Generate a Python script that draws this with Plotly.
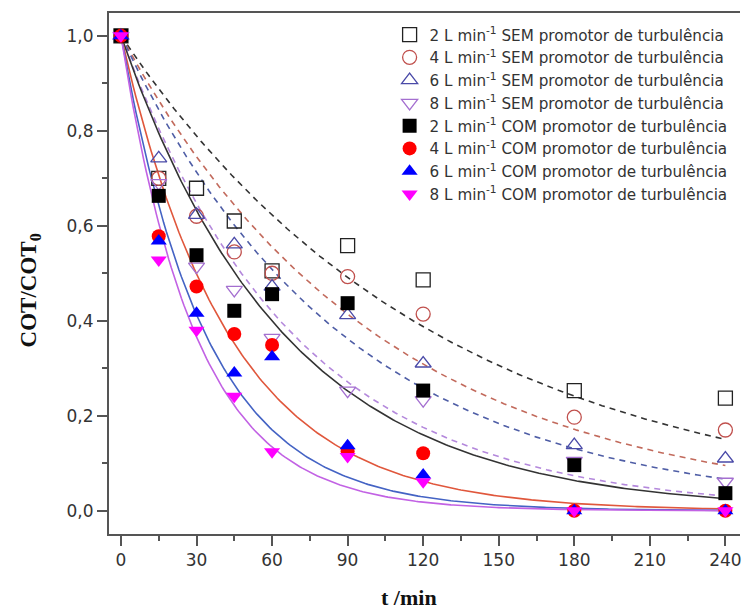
import numpy as np
import plotly.graph_objects as go

# Sampling times (min)
t_min = [0, 15, 30, 45, 60, 90, 120, 180, 240]

# Normalised TOC (COT/COT0) without turbulence promoter
sem_2 = [1.0, 0.700, 0.679, 0.610, 0.505, 0.558, 0.486, 0.253, 0.237]
sem_4 = [1.0, 0.700, 0.620, 0.545, 0.500, 0.493, 0.414, 0.197, 0.170]
sem_6 = [1.0, 0.742, 0.623, 0.561, 0.472, 0.412, 0.310, 0.138, 0.110]
sem_8 = [1.0, 0.690, 0.514, 0.465, 0.364, 0.253, 0.233, 0.105, 0.061]

# Normalised TOC with turbulence promoter
com_2 = [1.0, 0.663, 0.538, 0.421, 0.456, 0.437, 0.253, 0.096, 0.037]
com_4 = [1.0, 0.578, 0.472, 0.372, 0.349, 0.125, 0.121, 0.0, 0.0]
com_6 = [1.0, 0.568, 0.416, 0.290, 0.324, 0.137, 0.075, 0.0, 0.0]
com_8 = [1.0, 0.528, 0.380, 0.241, 0.124, 0.114, 0.061, 0.0, 0.0]

# First-order rate constants of the fitted decay curves (1/min)
k_sem = [0.0079, 0.0098, 0.0113, 0.0145]
k_com = [0.0153, 0.0232, 0.0295, 0.0335]

flows = [2, 4, 6, 8]
x_ticks = [0, 30, 60, 90, 120, 150, 180, 210, 240]
y_ticks = [0.0, 0.2, 0.4, 0.6, 0.8, 1.0]

sem_series = [sem_2, sem_4, sem_6, sem_8]
com_series = [com_2, com_4, com_6, com_8]

sem_marker_colors = ["#222222", "#c0504d", "#4a4aa8", "#a46fd0"]
sem_line_colors = ["#333333", "#c26a5c", "#4f5ea6", "#b488dc"]
sem_symbols = ["square-open", "circle-open", "triangle-up-open", "triangle-down-open"]

com_marker_colors = ["#000000", "#ff0000", "#0000ff", "#ff00ff"]
com_line_colors = ["#333333", "#e0573c", "#4463c4", "#c262e4"]
com_symbols = ["square", "circle", "triangle-up", "triangle-down"]

t_fit = np.linspace(0, 240, 241)

fig = go.Figure()

# Fitted curves: dashed without promoter, solid with promoter
for k, col in zip(k_sem, sem_line_colors):
    fig.add_trace(go.Scatter(x=t_fit, y=np.exp(-k * t_fit), mode="lines",
                             line=dict(color=col, width=1.6, dash="6px,5px"),
                             showlegend=False, hoverinfo="skip"))
for k, col in zip(k_com, com_line_colors):
    fig.add_trace(go.Scatter(x=t_fit, y=np.exp(-k * t_fit), mode="lines",
                             line=dict(color=col, width=1.6),
                             showlegend=False, hoverinfo="skip"))

# Experimental points
for q, vals, col, sym in zip(flows, sem_series, sem_marker_colors, sem_symbols):
    fig.add_trace(go.Scatter(
        x=t_min, y=vals, mode="markers",
        name=f"{q} L min<sup>-1</sup> SEM promotor de turbulência",
        marker=dict(symbol=sym, size=14, color=col, line=dict(color=col, width=1.3))))
for q, vals, col, sym in zip(flows, com_series, com_marker_colors, com_symbols):
    fig.add_trace(go.Scatter(
        x=t_min, y=vals, mode="markers",
        name=f"{q} L min<sup>-1</sup> COM promotor de turbulência",
        marker=dict(symbol=sym, size=14, color=col, line=dict(width=0))))

axis_common = dict(
    showgrid=False, zeroline=False, showline=True, linecolor="#555555", linewidth=2,
    ticks="outside", ticklen=10, tickwidth=2, tickcolor="#555555",
    ticklabeloverflow="allow",
    tickfont=dict(family="DejaVu Sans", size=17, color="#333333"),
)

fig.update_layout(
    width=742, height=615,
    margin=dict(l=109, r=0, t=13, b=81),
    paper_bgcolor="white", plot_bgcolor="white",
    separators=",.",
    xaxis=dict(range=[-4.75, 245.8], tickvals=x_ticks, mirror=True,
               minor=dict(dtick=15, ticks="outside", ticklen=5, tickwidth=2,
                          tickcolor="#555555"),
               **axis_common),
    yaxis=dict(range=[-0.049, 1.048], tickvals=y_ticks, tickformat=".1f",
               minor=dict(dtick=0.1, ticks="outside", ticklen=5, tickwidth=2,
                          tickcolor="#555555"),
               **axis_common),
    legend=dict(x=0.4447, y=0.99, xanchor="left", yanchor="top",
                bgcolor="rgba(0,0,0,0)",
                font=dict(family="DejaVu Sans", size=15.2, color="#333333")),
    annotations=[
        dict(text="COT/COT<sub>0</sub>", xref="paper", yref="paper",
             x=-0.1248, y=0.468, xanchor="center", yanchor="middle",
             textangle=-90, showarrow=False,
             font=dict(family="Liberation Serif", size=23, color="#111111", weight="bold")),
        dict(text="t /min", xref="paper", yref="paper",
             x=0.4755, y=-0.1228, xanchor="center", yanchor="middle", showarrow=False,
             font=dict(family="Liberation Serif", size=22, color="#111111", weight="bold")),
    ],
)

fig.write_html("out.html")
